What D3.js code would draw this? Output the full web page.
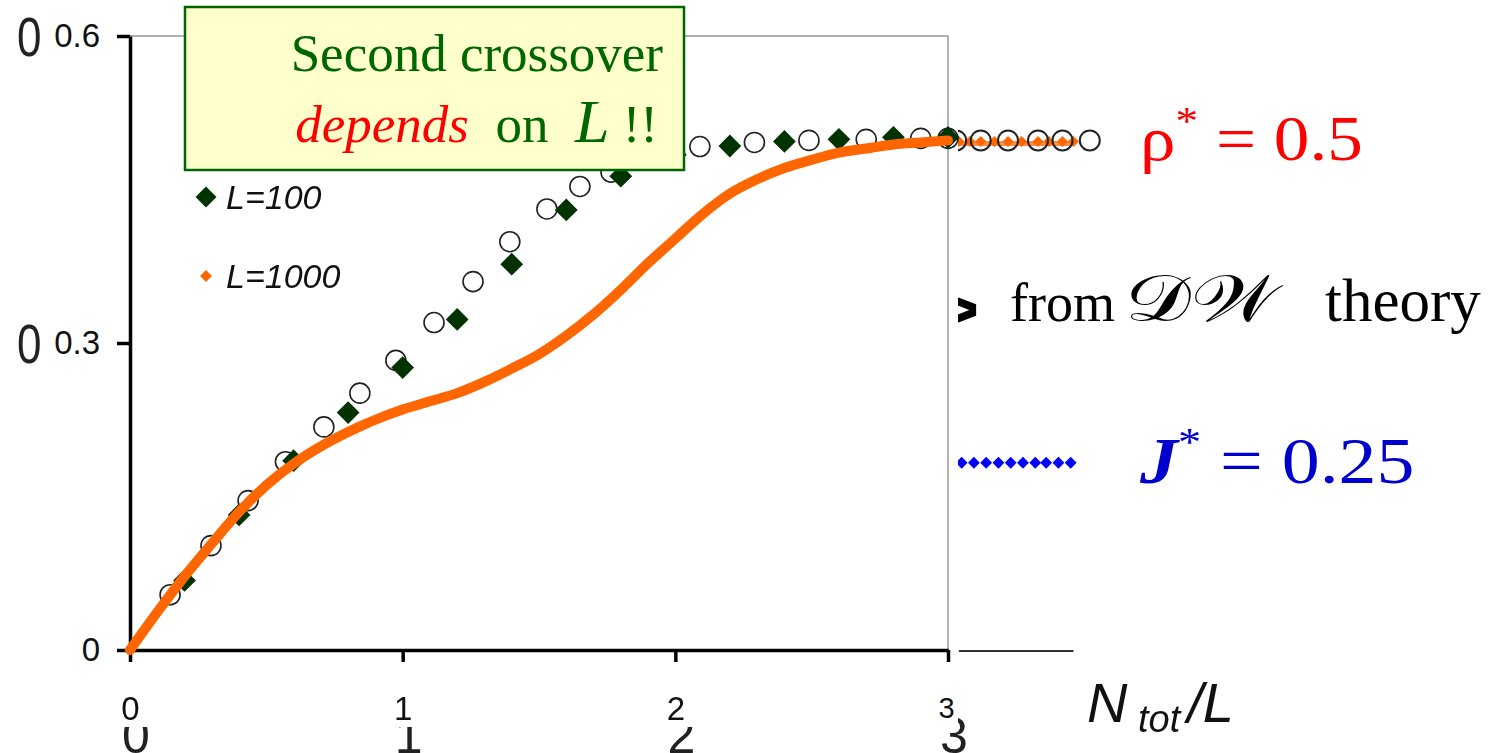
<!DOCTYPE html>
<html>
<head>
<meta charset="utf-8">
<script src="https://cdn.jsdelivr.net/npm/d3@7"></script>
<style>
  body { margin: 0; background: #fff; }
  svg { display: block; }
  .axis path, .axis line { stroke: #000; stroke-width: 3.5; }
  .axis text { font-family: 'Liberation Sans', Arial, sans-serif; font-size: 33px; fill: #111; }
  .serif { font-family: 'Liberation Serif', 'Times New Roman', serif; }
  .sans { font-family: 'Liberation Sans', Arial, sans-serif; }
</style>
</head>
<body>
<div id="chart"></div>
<script>
var width = 1495, height = 753;

// L=10 : open circles
var circleX = [0.147, 0.297, 0.433, 0.57, 0.711, 0.843, 0.975, 1.115, 1.258, 1.393, 1.529, 1.65, 1.764, 1.9, 2.09, 2.29, 2.49, 2.70, 2.90, 3.0];
var circleY = [0.054, 0.102, 0.146, 0.184, 0.218, 0.251, 0.283, 0.320, 0.360, 0.399, 0.431, 0.453, 0.467, 0.485, 0.492, 0.496, 0.498, 0.499, 0.500, 0.500];

// L=100 : diamonds
var diamondX = [0.2, 0.4, 0.6, 0.8, 1.0, 1.2, 1.4, 1.6, 1.8, 2.0, 2.2, 2.4, 2.6, 2.8, 3.0];
var diamondY = [0.068, 0.132, 0.185, 0.232, 0.276, 0.323, 0.377, 0.430, 0.463, 0.484, 0.4925, 0.497, 0.499, 0.501, 0.501];

// L=1000 : orange curve
var curveX = [0, 0.1, 0.2, 0.3, 0.4, 0.5, 0.6, 0.7, 0.8, 0.9, 1.0, 1.1, 1.2, 1.3, 1.4, 1.5, 1.6, 1.7, 1.8, 1.9, 2.0, 2.1, 2.2, 2.3, 2.4, 2.5, 2.6, 2.7, 2.8, 2.9, 3.0];
var curveY = [0, 0.037, 0.072, 0.104, 0.135, 0.161, 0.182, 0.199, 0.213, 0.225, 0.235, 0.243, 0.251, 0.262, 0.275, 0.289, 0.307, 0.328, 0.352, 0.378, 0.402, 0.426, 0.446, 0.460, 0.471, 0.479, 0.486, 0.490, 0.494, 0.496, 0.498];

// pieces of the slide behind, visible at the right
var tailCircleX = [3.03, 3.12, 3.22, 3.33, 3.42, 3.52];
var tailOrangeX = [3.04, 3.08, 3.12, 3.17, 3.22, 3.27, 3.33, 3.37, 3.42, 3.46];
var tailY = 0.497;
var blueX = [3.05, 3.095, 3.14, 3.185, 3.23, 3.275, 3.32, 3.36, 3.405, 3.45];
var blueY = 0.183;

var xTicks = [0, 1, 2, 3];
var yTicks = [0, 0.3, 0.6];
var legendLabels = ['L=100', 'L=1000'];

var xScale = d3.scaleLinear().domain([0, 3]).range([130, 948]),
    yScale = d3.scaleLinear().domain([0, 0.6]).range([650, 36]);

var svg = d3.select('#chart').append('svg')
    .attr('width', width)
    .attr('height', height);

var defs = svg.append('defs');
defs.append('filter').attr('id', 'soft')
  .append('feGaussianBlur').attr('stdDeviation', 0.7);

// ---- layer behind (the original slide, mostly hidden) ----
var back = svg.append('g').attr('filter', 'url(#soft)');

back.selectAll('.bigY')
    .data(yTicks.filter(function(d) { return d > 0; }))
  .enter().append('text')
    .attr('class', 'sans')
    .attr('transform', function(d) { return 'translate(17,' + (yScale(d) + 20) + ') scale(0.8,1)'; })
    .style('font-size', '55px')
    .style('fill', '#222')
    .text(function(d) { return d3.format('.1f')(d); });

back.selectAll('.bigX')
    .data(xTicks)
  .enter().append('text')
    .attr('class', 'sans')
    .attr('x', function(d) { return xScale(d) + 6; })
    .attr('y', 753)
    .style('font-size', '50px')
    .style('fill', '#222')
    .style('text-anchor', 'middle')
    .text(function(d) { return d; });

// gray axis of the slide behind
back.append('line')
    .attr('x1', xScale(3.04)).attr('x2', xScale(3.46))
    .attr('y1', yScale(0) + 1).attr('y2', yScale(0) + 1)
    .style('stroke', '#333').style('stroke-width', 2);

back.append('path')
    .datum(tailOrangeX)
    .attr('d', d3.line().x(function(d) { return xScale(d); }).y(yScale(tailY) + 2))
    .style('fill', 'none').style('stroke', '#ff8c40').style('stroke-width', 5);

back.selectAll('.tailO')
    .data(tailOrangeX)
  .enter().append('path')
    .attr('d', d3.symbol(d3.symbolSquare, 60))
    .attr('transform', function(d) { return 'translate(' + xScale(d) + ',' + yScale(tailY) + ') rotate(45)'; })
    .style('fill', '#ff6600');

back.selectAll('.tailC')
    .data(tailCircleX)
  .enter().append('circle')
    .attr('cx', function(d) { return xScale(d); })
    .attr('cy', yScale(tailY) - 1)
    .attr('r', 10)
    .style('fill', 'none').style('stroke', '#222').style('stroke-width', 2);

back.selectAll('.blue')
    .data(blueX)
  .enter().append('path')
    .attr('d', d3.symbol(d3.symbolSquare, 70))
    .attr('transform', function(d) { return 'translate(' + xScale(d) + ',' + yScale(blueY) + ') rotate(45)'; })
    .style('fill', '#0000ff');

back.append('text')
    .attr('class', 'sans')
    .attr('x', 937).attr('y', 334)
    .style('font-size', '72px').style('font-weight', 'bold')
    .text('>');

// ---- the chart on top ----
svg.append('rect')
    .attr('x', 45).attr('y', 0)
    .attr('width', 913).attr('height', 727)
    .style('fill', '#fff');

var wrapper = svg.append('g');

// frame
wrapper.append('path')
    .attr('d', 'M' + xScale(0) + ',' + yScale(0.6) + 'H' + xScale(3) + 'V' + yScale(0))
    .style('fill', 'none').style('stroke', '#999').style('stroke-width', 1.5);

var yAxis = wrapper.append('g')
    .attr('class', 'axis')
    .attr('transform', 'translate(' + xScale(0) + ',0)')
    .call(d3.axisLeft(yScale).tickValues(yTicks).tickSize(13).tickSizeOuter(0).tickPadding(17)
      .tickFormat(function(d) { return d === 0 ? '0' : d3.format('.1f')(d); }));

var xAxis = wrapper.append('g')
    .attr('class', 'axis')
    .attr('transform', 'translate(0,' + yScale(0) + ')')
    .call(d3.axisBottom(xScale).tickValues(xTicks).tickSize(12).tickSizeOuter(0).tickPadding(35)
      .tickFormat(d3.format('d')));

xAxis.selectAll('.tick text')
    .filter(function(d) { return d === 3; })
    .attr('x', -2)
    .style('font-size', '29px');

wrapper.selectAll('.circle')
    .data(circleX)
  .enter().append('circle')
    .attr('class', 'circle')
    .attr('cx', function(d) { return xScale(d); })
    .attr('cy', function(d, i) { return yScale(circleY[i]); })
    .attr('r', 10)
    .style('fill', 'none').style('stroke', '#222').style('stroke-width', 1.6);

wrapper.selectAll('.diamond')
    .data(diamondX)
  .enter().append('path')
    .attr('class', 'diamond')
    .attr('d', d3.symbol(d3.symbolSquare, 260))
    .attr('transform', function(d, i) { return 'translate(' + xScale(d) + ',' + yScale(diamondY[i]) + ') rotate(45)'; })
    .style('fill', '#003300');

wrapper.append('path')
    .datum(curveX)
    .attr('d', d3.line()
      .curve(d3.curveMonotoneX)
      .x(function(d) { return xScale(d); })
      .y(function(d, i) { return yScale(curveY[i]); }))
    .style('fill', 'none')
    .style('stroke', '#ff6600')
    .style('stroke-width', 10)
    .style('stroke-linecap', 'round');

// legend
var legend = wrapper.selectAll('.legend')
    .data(legendLabels)
  .enter().append('g')
    .attr('class', 'legend')
    .attr('transform', function(d, i) { return 'translate(206,' + (197 + i * 79) + ')'; });

legend.append('path')
    .attr('d', function(d, i) { return d3.symbol(d3.symbolSquare, i === 0 ? 220 : 70)(); })
    .attr('transform', 'rotate(45)')
    .style('fill', function(d, i) { return i === 0 ? '#003300' : '#ff6600'; });

legend.append('text')
    .attr('class', 'sans')
    .attr('x', 20)
    .attr('y', 12)
    .style('font-size', '34px')
    .style('font-style', 'italic')
    .style('fill', '#111')
    .text(function(d) { return d; });

// annotation box
wrapper.append('rect')
    .attr('x', 185).attr('y', 7)
    .attr('width', 499).attr('height', 163)
    .style('fill', '#ffffcc')
    .style('stroke', '#006600')
    .style('stroke-width', 2.5);

wrapper.append('text')
    .attr('class', 'serif')
    .attr('x', 663).attr('y', 71)
    .style('font-size', '53px')
    .style('fill', '#006600')
    .style('text-anchor', 'end')
    .text('Second crossover');

var line2 = wrapper.append('text')
    .attr('class', 'serif')
    .attr('x', 658).attr('y', 142)
    .attr('xml:space', 'preserve')
    .style('font-size', '53px')
    .style('fill', '#006600')
    .style('text-anchor', 'end');
line2.append('tspan').style('fill', '#ff0000').style('font-style', 'italic').text('depends');
line2.append('tspan').text('  on  ');
line2.append('tspan').style('font-style', 'italic').style('font-size', '62px').text('L');
line2.append('tspan').text(' !!');

// right-hand notes
var rho = svg.append('text')
    .attr('class', 'serif')
    .attr('transform', 'translate(1140,160) scale(1.13,1)')
    .style('font-size', '63px')
    .style('fill', '#ff0000');
rho.append('tspan').text('ρ');
rho.append('tspan').attr('dy', -26).style('font-size', '40px').text('*');
rho.append('tspan').attr('dy', 26).text(' = 0.5');

var dwParts = [
  { text: 'from', x: 1010, size: 54, sx: 1 },
  { text: '𝒟𝒲', x: 1125, size: 66, sx: 1.25 },
  { text: 'theory', x: 1325, size: 61, sx: 1 }
];
svg.selectAll('.dw')
    .data(dwParts)
  .enter().append('text')
    .attr('class', 'serif')
    .attr('transform', function(d) { return 'translate(' + d.x + ',321) scale(' + d.sx + ',1)'; })
    .style('font-size', function(d) { return d.size + 'px'; })
    .style('fill', '#000')
    .text(function(d) { return d.text; });

var jj = svg.append('text')
    .attr('class', 'serif')
    .attr('transform', 'translate(1140,483) scale(1.15,1)')
    .style('font-size', '66px')
    .style('fill', '#0000cc');
jj.append('tspan').style('font-style', 'italic').style('font-weight', 'bold').text('J');
jj.append('tspan').attr('dy', -28).style('font-size', '40px').text('*');
jj.append('tspan').attr('dy', 28).text(' = 0.25');

var xl = svg.append('text')
    .attr('class', 'sans')
    .attr('x', 1087).attr('y', 722)
    .style('font-size', '56px')
    .style('font-style', 'italic')
    .style('fill', '#111');
xl.append('tspan').text('N');
xl.append('tspan').attr('dy', 10).style('font-size', '38px').text(' tot');
xl.append('tspan').attr('dy', -10).attr('dx', 7).text('/L');
</script>
</body>
</html>
